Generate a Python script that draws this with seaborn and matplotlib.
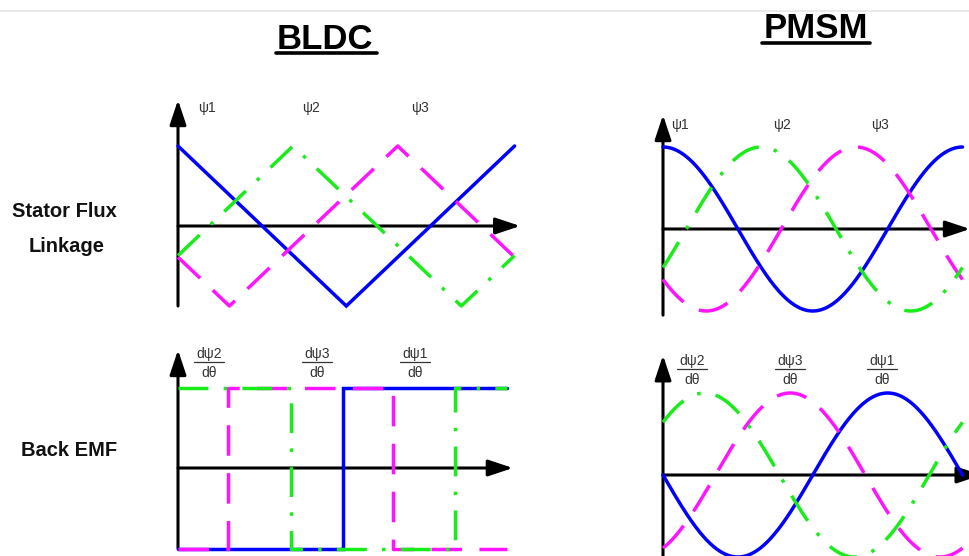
import numpy as np
import pandas as pd
import seaborn as sns
import matplotlib
matplotlib.use("Agg")
import matplotlib.pyplot as plt
from matplotlib.lines import Line2D

# ---------------------------------------------------------------------------
# Waveform data (electrical angle in degrees, normalised amplitude)
# ---------------------------------------------------------------------------
# BLDC stator flux linkage: triangular waves given by their corner points
bldc_psi1_deg = [0, 180, 360]
bldc_psi1 = [1.0, -1.0, 1.0]
bldc_psi2_deg = [0, 123, 303, 360]
bldc_psi2 = [-0.37, 1.0, -1.0, -0.37]
bldc_psi3_deg = [0, 55, 235, 360]
bldc_psi3 = [-0.39, -1.0, 1.0, -0.39]

# BLDC back EMF: rectangular waves (derivatives of the triangles)
bldc_e1_deg = [0, 180, 180, 360]
bldc_e1 = [-1, -1, 1, 1]
bldc_e2_deg = [0, 123, 123, 303, 303, 360]
bldc_e2 = [1, 1, -1, -1, 1, 1]
bldc_e3_deg = [0, 55, 55, 235, 235, 360]
bldc_e3 = [-1, -1, 1, 1, -1, -1]

# PMSM: sinusoids, described by the angle of each positive peak
pmsm_flux_peak_deg = [0, 118, 232]     # psi1, psi2, psi3
pmsm_emf_peak_deg = [270, 50, 153]     # dpsi1, dpsi2, dpsi3

flux_labels = ["ψ1", "ψ2", "ψ3"]
emf_numerators = ["dψ2", "dψ3", "dψ1"]
emf_denominator = "dθ"
row_labels = ["Stator Flux", "Linkage", "Back EMF"]
titles = ["BLDC", "PMSM"]

# ---------------------------------------------------------------------------
# Styling
# ---------------------------------------------------------------------------
sns.set_theme(style="white")
plt.rcParams["font.family"] = ["Liberation Sans", "DejaVu Sans"]
plt.rcParams["lines.scale_dashes"] = False

BLUE = "#0000ff"
GREEN = "#1aec1a"
MAGENTA = "#ff14ff"
LW = 2.5
DASH_MAG = (0, (22, 12.5))
DASH_GRN = (0, (21.5, 11, 2.5, 11))
TXT = "#333333"

W, H = 970, 556
fig = plt.figure(figsize=(W / 100, H / 100), dpi=100)
fig.patch.set_facecolor("white")


def px(x, y):
    """Pixel position (from top-left) to figure fraction."""
    return x / W, 1 - y / H


def make_panel(ox, oy, sx, sy, xlim, ylim):
    """Axes whose data origin sits at pixel (ox, oy) with sx px/deg, sy px/unit."""
    x0, x1 = xlim
    y0, y1 = ylim
    left = (ox + x0 * sx) / W
    width = (x1 - x0) * sx / W
    bottom = 1 - (oy - y0 * sy) / H
    height = (y1 - y0) * sy / H
    ax = fig.add_axes([left, bottom, width, height])
    ax.set_xlim(x0, x1)
    ax.set_ylim(y0, y1)
    ax.set_axis_off()
    ax.patch.set_alpha(0)
    return ax


def draw_axes_arrows(ax, ybot, ytop, xtip):
    style = dict(arrowstyle="-|>,head_length=1.5,head_width=0.5",
                 mutation_scale=10, lw=2.2, color="black",
                 shrinkA=0, shrinkB=0)
    ax.annotate("", xy=(0, ytop), xytext=(0, ybot), arrowprops=style,
                annotation_clip=False, zorder=1)
    ax.annotate("", xy=(xtip, 0), xytext=(0, 0), arrowprops=style,
                annotation_clip=False, zorder=1)


def curve(ax, xs, ys, color, dashes=None, z=3):
    sns.lineplot(x=xs, y=ys, ax=ax, color=color, linewidth=LW,
                 estimator=None, sort=False, legend=False)
    line = ax.lines[-1]
    line.set_zorder(z)
    line.set_clip_on(False)
    line.set_solid_joinstyle("miter")
    if dashes is not None:
        line.set_linestyle(dashes)


# ---------------------------------------------------------------------------
# BLDC stator flux linkage
# ---------------------------------------------------------------------------
ax1 = make_panel(178, 226, 0.935, 80, (-10, 380), (-1.2, 1.7))
draw_axes_arrows(ax1, -1.0, 1.575, 366)
curve(ax1, bldc_psi1_deg, bldc_psi1, BLUE, z=3)
curve(ax1, bldc_psi3_deg, bldc_psi3, MAGENTA, DASH_MAG, z=4)
curve(ax1, bldc_psi2_deg, bldc_psi2, GREEN, DASH_GRN, z=5)

# BLDC back EMF
ax2 = make_panel(178, 468, 0.915, 80.5, (-10, 380), (-1.2, 1.6))
draw_axes_arrows(ax2, -1.0, 1.466, 366)
curve(ax2, bldc_e1_deg, bldc_e1, BLUE, z=3)
curve(ax2, bldc_e3_deg, bldc_e3, MAGENTA, DASH_MAG, z=4)
curve(ax2, bldc_e2_deg, bldc_e2, GREEN, DASH_GRN, z=5)

# ---------------------------------------------------------------------------
# PMSM stator flux linkage and back EMF
# ---------------------------------------------------------------------------
theta = np.linspace(0, 360, 721)

ax3 = make_panel(663, 229, 0.832, 82, (-10, 400), (-1.2, 1.6))
draw_axes_arrows(ax3, -1.05, 1.39, 369)
pmsm_flux = pd.DataFrame({"theta": theta})
for name, peak in zip(flux_labels, pmsm_flux_peak_deg):
    pmsm_flux[name] = np.cos(np.radians(theta - peak))
curve(ax3, pmsm_flux["theta"], pmsm_flux["ψ1"], BLUE, z=3)
curve(ax3, pmsm_flux["theta"], pmsm_flux["ψ3"], MAGENTA, DASH_MAG, z=4)
curve(ax3, pmsm_flux["theta"], pmsm_flux["ψ2"], GREEN, DASH_GRN, z=5)

ax4 = make_panel(663, 475, 0.832, 82, (-10, 400), (-1.3, 1.6))
draw_axes_arrows(ax4, -1.2, 1.46, 383)
pmsm_emf = pd.DataFrame({"theta": theta})
for name, peak in zip(["e1", "e2", "e3"], pmsm_emf_peak_deg):
    pmsm_emf[name] = np.cos(np.radians(theta - peak))
curve(ax4, pmsm_emf["theta"], pmsm_emf["e1"], BLUE, z=3)
curve(ax4, pmsm_emf["theta"], pmsm_emf["e3"], MAGENTA, DASH_MAG, z=4)
curve(ax4, pmsm_emf["theta"], pmsm_emf["e2"], GREEN, DASH_GRN, z=5)

# ---------------------------------------------------------------------------
# Text: titles, row labels, curve labels
# ---------------------------------------------------------------------------
# thin rule along the top edge
fig.add_artist(Line2D([0, 1], [1 - 11 / H] * 2, transform=fig.transFigure,
                      color="#e6e6e6", lw=1.2))

for title, cx, base, ux0, ux1, uy in [("BLDC", 325, 49, 276, 377, 53),
                                      ("PMSM", 816, 38, 762, 870, 43)]:
    fig.text(*px(cx, base), title, ha="center", va="baseline",
             fontsize=25, fontweight="bold", color="black")
    fig.add_artist(Line2D([ux0 / W, ux1 / W], [1 - uy / H] * 2,
                          transform=fig.transFigure, color="black", lw=2.6))

for label, cx, base in zip(row_labels, [64, 67, 69], [217, 252, 456]):
    fig.text(*px(cx, base), label, ha="center", va="baseline",
             fontsize=14.5, fontweight="bold", color="#111111")

# psi labels above the flux panels
for lab, x in zip(flux_labels, [207, 311, 420]):
    fig.text(*px(x, 108), lab, ha="center", va="center", fontsize=10,
             color=TXT)
for lab, x in zip(flux_labels, [680, 782, 880]):
    fig.text(*px(x, 125), lab, ha="center", va="center", fontsize=10,
             color=TXT)

# d(psi)/d(theta) fractions above the back-EMF panels
for xs, ynum, ybar, yden in [([209, 317, 415], 354, 362, 373),
                             ([692, 790, 882], 361, 369, 380)]:
    for num, x in zip(emf_numerators, xs):
        fig.text(*px(x, ynum), num, ha="center", va="center", fontsize=10,
                 color=TXT)
        fig.add_artist(Line2D([(x - 15) / W, (x + 15) / W], [1 - ybar / H] * 2,
                              transform=fig.transFigure, color=TXT, lw=0.9))
        fig.text(*px(x, yden), emf_denominator, ha="center", va="center",
                 fontsize=10, color=TXT)

fig.savefig("out.png", dpi=100, facecolor="white")
